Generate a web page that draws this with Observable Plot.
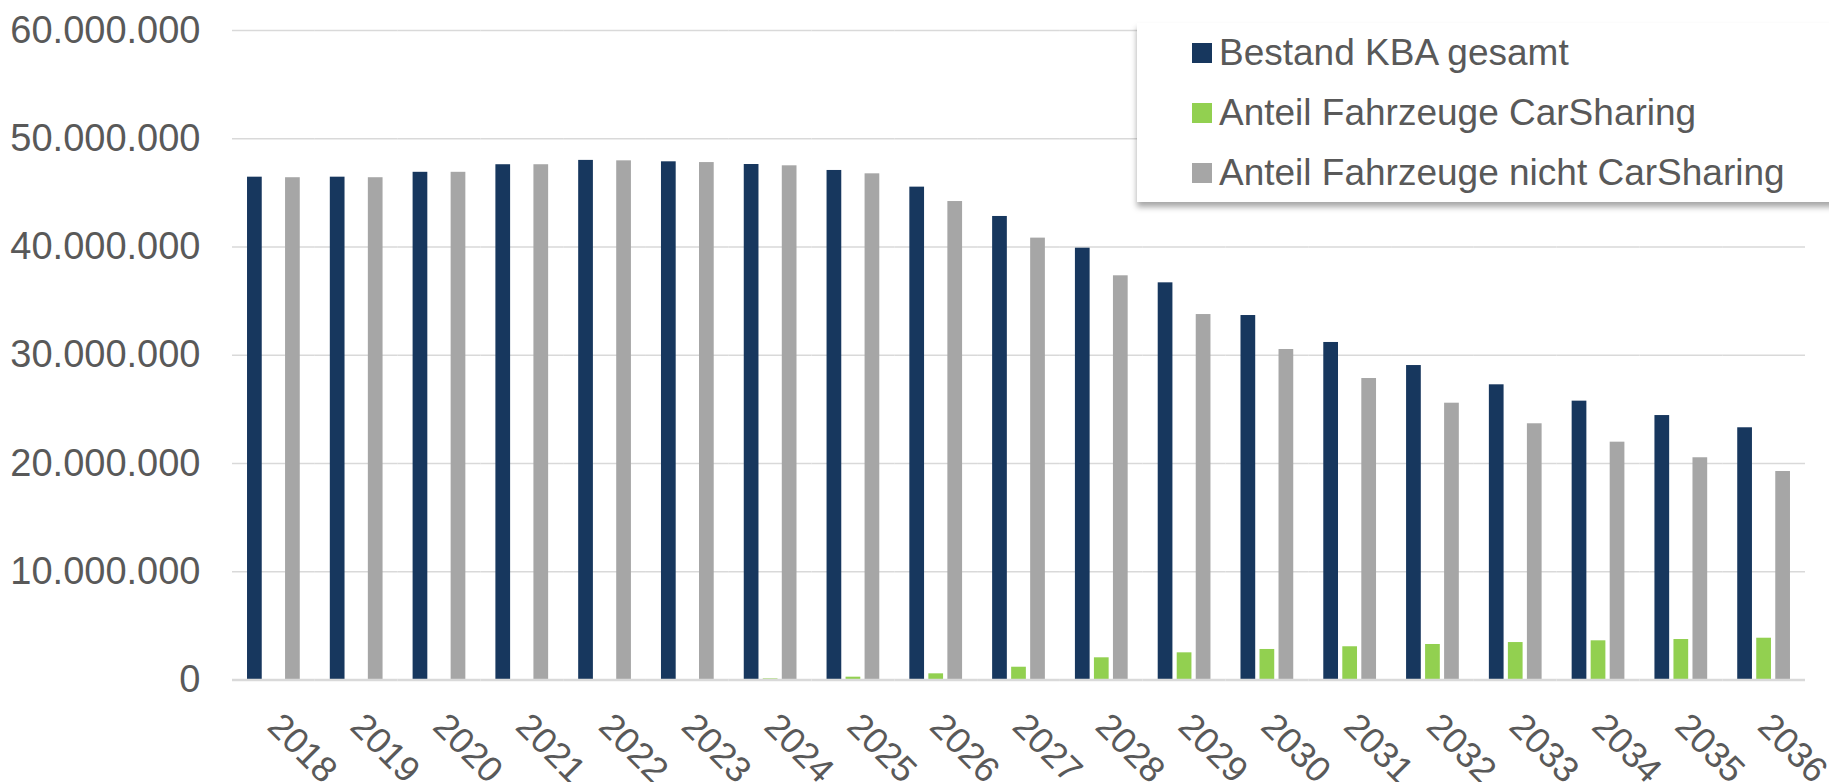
<!DOCTYPE html>
<html>
<head>
<meta charset="utf-8">
<script src="https://cdn.jsdelivr.net/npm/d3@7"></script>
<script src="https://cdn.jsdelivr.net/npm/@observablehq/plot@0.6"></script>
<style>
  html, body { margin: 0; padding: 0; background: #ffffff; }
  #wrap { position: relative; width: 1829px; height: 782px; overflow: hidden; font-family: "Liberation Sans", Arial, sans-serif; }
  #chart { position: absolute; left: 0; top: 0; }
  #chart [aria-label^="fx-axis"] text { font-size: 36px; }
  #legend {
    position: absolute; left: 1137px; top: 23px; width: 700px; height: 179px;
    background: #ffffff; box-shadow: 0 5px 6px rgba(0,0,0,0.35);
    box-sizing: border-box; padding-left: 55px;
  }
  .row { height: 60px; line-height: 60px; font-size: 37px; color: #595959; white-space: nowrap; display: flex; align-items: center; }
  .sw { width: 20px; height: 20px; margin-right: 7px; flex: none; }
</style>
</head>
<body>
<div id="wrap">
  <div id="chart"></div>
  <div id="legend"></div>
</div>
<script>
const years = ["2018","2019","2020","2021","2022","2023","2024","2025","2026","2027","2028","2029","2030","2031","2032","2033","2034","2035","2036"];
const seriesNames = ["Bestand KBA gesamt", "Anteil Fahrzeuge CarSharing", "Anteil Fahrzeuge nicht CarSharing"];
const seriesColors = ["#17375e", "#92d050", "#a6a6a6"];
const bestandGesamt = [46450000, 46450000, 46900000, 47600000, 48000000, 47870000, 47620000, 47070000, 45530000, 42820000, 39890000, 36690000, 33670000, 31180000, 29050000, 27270000, 25760000, 24430000, 23300000];
const carSharing = [0, 0, 0, 0, 0, 0, 100000, 260000, 570000, 1180000, 2050000, 2510000, 2820000, 3070000, 3280000, 3460000, 3620000, 3740000, 3860000];
const nichtCarSharing = [46400000, 46400000, 46900000, 47600000, 47960000, 47800000, 47500000, 46760000, 44200000, 40820000, 37340000, 33760000, 30530000, 27850000, 25570000, 23670000, 21970000, 20530000, 19260000];
const yTicks = [0, 10000000, 20000000, 30000000, 40000000, 50000000, 60000000];

const seriesValues = [bestandGesamt, carSharing, nichtCarSharing];
const rows = [];
years.forEach((year, i) => {
  seriesNames.forEach((s, j) => rows.push({year, series: s, value: seriesValues[j][i]}));
});

const de = d3.formatLocale({decimal: ",", thousands: ".", grouping: [3], currency: ["", " €"]});
const fmt = de.format(",");

const chart = Plot.plot({
  width: 1829,
  height: 782,
  marginLeft: 232,
  marginRight: 24,
  marginTop: 30,
  marginBottom: 102.5,
  style: {fontFamily: "Liberation Sans, Arial, sans-serif", fontSize: "38px", color: "#595959", background: "transparent", overflow: "visible"},
  facet: {data: rows, x: "year"},
  fx: {domain: years, round: false, paddingInner: 0, paddingOuter: 0, label: null, axis: "bottom", tickRotate: 45, tickSize: 0, tickPadding: 40},
  x: {domain: seriesNames, round: false, paddingInner: 0.226, paddingOuter: 0.79, axis: null},
  y: {domain: [0, 60000000], ticks: yTicks, tickFormat: fmt, tickSize: 0, tickPadding: 32, label: null, grid: false},
  color: {domain: seriesNames, range: seriesColors},
  marks: [
    Plot.ruleY(yTicks.slice(1), {stroke: "#d9d9d9", strokeWidth: 1.6}),
    Plot.barY(rows, {x: "series", y: "value", fill: "series"}),
    Plot.ruleY([0], {stroke: "#d9d9d9", strokeWidth: 2.6})
  ]
});
document.getElementById("chart").appendChild(chart);

const legend = document.getElementById("legend");
seriesNames.forEach((s, j) => {
  const r = document.createElement("div");
  r.className = "row";
  const sw = document.createElement("span");
  sw.className = "sw";
  sw.style.background = seriesColors[j];
  const t = document.createElement("span");
  t.textContent = s;
  r.appendChild(sw);
  r.appendChild(t);
  legend.appendChild(r);
});
</script>
</body>
</html>
